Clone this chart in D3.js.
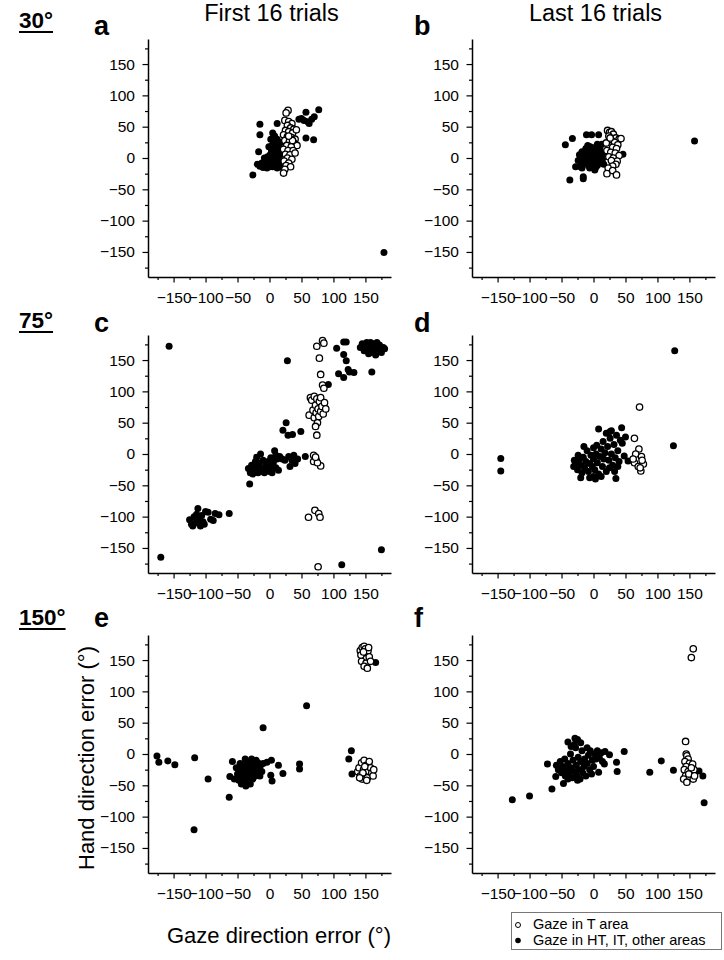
<!DOCTYPE html>
<html>
<head>
<meta charset="utf-8">
<script src="https://cdn.jsdelivr.net/npm/d3@7"></script>
<style>
  html, body { margin: 0; padding: 0; background: #fff; }
  svg { display: block; font-family: "Liberation Sans", Arial, sans-serif; }
  .tick text { font-size: 15.5px; fill: #000; }
</style>
</head>
<body>
<div id="chart"></div>
<script>
// ---------------- DATA ----------------
const columnTitles = ["First 16 trials", "Last 16 trials"];
const rowLabels = ["30°", "75°", "150°"];
const panelLetters = ["a", "b", "c", "d", "e", "f"];
const majorTicks = [-150, -100, -50, 0, 50, 100, 150];
const minorTicks = [-175, -125, -75, -25, 25, 75, 125, 175];
const axisDomain = [-190, 190];
const xTitle = "Gaze direction error (°)";
const yTitle = "Hand direction error (°)";
const legendLabels = ["Gaze in T area", "Gaze in HT, IT, other areas"];

// panel a (30°, first 16)
const aFilled = [[-26,-27],[-15,54],[-15,37],[-17,10],[-19,-10],[-15,-13],[-12,-8],[-10,-15],[-7,-12],[-5,-7],[-4,-16],[-2,-10],[0,-14],[0,-4],[1,5],[2,-8],[3,12],[4,-2],[4,20],[5,-14],[6,8],[6,26],[7,-6],[8,15],[8,35],[9,2],[10,-10],[10,22],[12,55],[12,30],[12,-16],[13,10],[14,-3],[15,18],[16,-12],[17,5],[18,-8],[19,25],[20,-15],[-3,2],[-8,0],[2,30],[-1,18],[5,40],[22,8],[25,-5],
  [46,62],[50,63],[54,60],[57,73],[60,58],[62,55],[66,62],[70,66],[77,77],[57,32],[69,29],[179,-151]];
const aOpen = [[29,76],[26,72],[24,60],[30,58],[35,55],[28,52],[33,48],[38,46],[25,44],[30,42],[36,40],[42,45],[22,37],[28,34],[34,33],[40,30],[24,28],[31,26],[38,24],[43,20],[27,20],[34,18],[22,14],[29,12],[37,12],[25,6],[32,5],[40,8],[28,0],[35,-2],[23,-5],[30,-8],[26,-12],[33,-14],[24,-18],[22,-24],[36,28],[30,35]];

// panel b (30°, last 16)
const bFilled = [[-44,21],[-33,31],[-37,-35],[-11,37],[-3,37],[8,37],[-28,-14],[-20,-14],[-16,-30],[-16,-33],[2,-19],[6,22],[46,6],[41,31],[158,27],
  [-22,5],[-20,-5],[-18,10],[-16,0],[-14,-8],[-12,15],[-12,4],[-10,-4],[-8,8],[-8,-12],[-6,0],[-5,18],[-4,-7],[-3,10],[-2,3],[0,-10],[0,14],[1,0],[2,7],[3,-5],[4,18],[5,2],[6,-12],[7,10],[8,-3],[9,5],[10,15],[11,-8],[12,2],[13,22],[14,-2],[15,8],[16,-10],[-18,-16],[-9,20],[3,-16],[-24,-4],[-6,-16]];
const bOpen = [[22,44],[25,41],[28,42],[31,38],[24,35],[35,32],[40,30],[43,31],[28,28],[33,25],[38,21],[24,20],[30,17],[36,15],[21,12],[27,9],[34,8],[40,4],[24,2],[31,0],[37,-5],[28,-4],[35,-10],[30,-13],[23,-16],[21,-25],[30,-20],[36,-27],[20,24],[26,32]];

// panel c (75°, first 16)
const cFilled = [[-157,172],[-170,-165],[28,149],[113,-177],[175,-153],[160,131],
  [105,169],[116,179],[120,179],[116,159],[120,149],[123,135],[125,131],[132,130],[108,128],[116,122],[92,111],
  [142,170],[145,176],[148,165],[150,172],[152,178],[154,168],[156,174],[158,162],[158,178],[160,170],[162,176],[163,165],[165,172],[166,158],[168,178],[170,168],[172,174],[175,162],[178,170],[180,168],[155,160],[146,172],
  [26,50],[21,38],[29,30],[36,31],[49,36],[56,-4],
  [-33,-23],[-30,-30],[-28,-18],[-26,-32],[-24,-25],[-22,-12],[-20,-20],[-18,-30],[-16,-15],[-14,0],[-12,-24],[-10,-10],[-8,-30],[-6,-18],[-4,-24],[-2,-12],[0,-28],[2,-6],[2,-20],[4,-30],[6,-14],[8,5],[10,-2],[10,-22],[12,-8],[14,-26],[16,-4],[-20,-5],[-10,-28],[-15,-25],[0,-15],[20,-8],[24,-10],[30,-4],[32,-20],[35,-10],[38,-2],[40,-15],[44,-8],[-31,-48],
  [-125,-105],[-122,-112],[-118,-100],[-116,-110],[-114,-96],[-112,-87],[-110,-105],[-108,-115],[-106,-98],[-104,-108],[-100,-92],[-96,-93],[-92,-104],[-88,-106],[-85,-95],[-79,-97],[-63,-95],[-120,-115],[-102,-112]];
const cOpen = [[83,181],[85,177],[74,172],[78,153],[80,127],[83,110],[85,105],
  [62,62],[64,90],[66,86],[68,70],[70,92],[70,58],[72,78],[73,66],[74,88],[75,50],[76,72],[77,60],[78,84],[80,68],[80,90],[82,76],[84,64],[86,82],[88,72],[72,44],[74,30],
  [69,-2],[73,-10],[80,-19],[69,-12],[75,-14],[72,-5],
  [61,-101],[71,-90],[77,-95],[79,-101],[76,-180]];

// panel d (75°, last 16)
const dFilled = [[-145,-7],[-145,-27],[127,165],[125,13],
  [8,40],[44,42],[28,37],[26,36],[20,33],[50,27],[54,-11],[35,-39],[0,-36],[-20,-38],[-31,-20],[45,17],
  [-28,-15],[-25,-25],[-22,-8],[-20,-18],[-18,-30],[-16,-5],[-14,-22],[-12,-12],[-10,5],[-8,-28],[-6,-15],[-4,-2],[-2,-20],[0,10],[0,-8],[2,-25],[4,0],[5,14],[6,-14],[8,-32],[10,-4],[12,8],[14,-20],[15,20],[16,-8],[18,2],[20,-28],[22,12],[24,-10],[26,25],[28,0],[30,-18],[32,15],[34,-6],[36,30],[38,5],[40,-12],[42,22],[-24,-2],[-15,12],[3,-40],[12,-36],[25,-22],[33,-28],[-6,-38],[38,-20],[-30,-10],[48,-3]];
const dOpen = [[72,75],[64,25],[71,8],[64,-14],[66,0],[75,-4],[78,-16],[74,-27],[70,-20],[62,-8],[76,-10],[73,-22]];

// panel e (150°, first 16)
const eFilled = [[-176,-3],[-173,-13],[-159,-11],[-148,-17],[-117,-6],[-96,-40],[-118,-121],[-63,-69],[-62,-36],[-58,-12],[-10,42],[58,77],[3,-10],[-4,-13],[14,-18],[21,-31],[2,-34],[4,-43],[47,-16],[47,-24],[124,-8],[128,5],[129,-32],[166,146],
  [-55,-40],[-52,-22],[-50,-32],[-48,-42],[-46,-15],[-45,-28],[-43,-36],[-42,-20],[-40,-45],[-40,-30],[-38,-25],[-37,-51],[-36,-12],[-35,-38],[-34,-20],[-33,-30],[-32,-44],[-31,-15],[-30,-25],[-29,-35],[-28,-8],[-27,-20],[-26,-40],[-25,-30],[-24,-15],[-23,-25],[-22,-35],[-21,-10],[-20,-20],[-19,-30],[-18,-14],[-16,-25],[-14,-18],[-12,-28],[-10,-15],[-44,-48],[-38,-8],[-47,-26],[-30,-48],[-15,-35]];
const eOpen = [[142,165],[145,170],[148,172],[150,168],[152,160],[146,158],[154,165],[149,152],[144,148],[151,145],[156,155],[148,140],[153,137],[143,158],[158,148],[147,163],[155,170],
  [138,-28],[140,-22],[142,-35],[144,-14],[145,-40],[147,-25],[148,-10],[150,-32],[151,-18],[153,-38],[155,-27],[156,-12],[158,-22],[160,-30],[162,-35],[163,-25],[146,-30],[152,-42],[149,-20],[141,-38]];

// panel f (150°, last 16)
const fFilled = [[-127,-73],[-100,-67],[-65,-56],[-47,-47],[-72,-16],[-59,-36],[-40,19],[-29,25],[-25,23],[48,4],[36,-13],[37,-28],[88,-29],[106,-11],[125,-26],[165,-27],[171,-35],[173,-78],[-3,-32],[8,-29],[17,-16],[25,-1],[18,4],
  [-58,-18],[-55,-25],[-52,-12],[-50,-30],[-48,-20],[-45,-8],[-44,-35],[-42,-25],[-40,-15],[-38,-30],[-36,0],[-35,-22],[-33,-38],[-32,-10],[-30,-28],[-28,10],[-27,-18],[-26,-35],[-24,-5],[-22,-25],[-21,-40],[-20,-12],[-18,5],[-17,-30],[-15,-20],[-14,-8],[-12,-35],[-10,-15],[-8,-2],[-6,-25],[-5,5],[-2,-10],[0,-20],[2,0],[4,-8],[6,5],[9,-5],[12,2],[14,-12],[-30,15],[-20,18],[-35,12],[-40,-40],[-25,-42],[-10,10]];
const fOpen = [[156,168],[153,154],[144,20],[145,0],[146,-3],[148,-8],[143,-12],[150,-15],[145,-20],[155,-16],[142,-25],[148,-28],[152,-30],[157,-25],[144,-35],[150,-38],[156,-40],[141,-40],[146,-45],[153,-22],[149,-32],[158,-35]];

const panelFilled = [aFilled, bFilled, cFilled, dFilled, eFilled, fFilled];
const panelOpen = [aOpen, bOpen, cOpen, dOpen, eOpen, fOpen];

// ---------------- LAYOUT ----------------
const W = 724, H = 960;
const colX = [[148, 391], [472, 715]];
const rowY = [[277, 39], [573, 335], [873, 635]];
const rowLabelBase = [28, 328, 625];
const letterBase = [35, 332, 627];

const svg = d3.select("#chart").append("svg").attr("width", W).attr("height", H);

// column titles
columnTitles.forEach((t, i) => {
  svg.append("text").attr("x", (colX[i][0] + colX[i][1]) / 2 + 2).attr("y", 21)
    .attr("text-anchor", "middle").attr("font-size", 23.5).text(t);
});

// row labels (underlined, bold)
rowLabels.forEach((t, r) => {
  const txt = svg.append("text").attr("x", 19).attr("y", rowLabelBase[r])
    .attr("font-size", 22.5).attr("font-weight", "bold").text(t);
  const w = txt.node().getComputedTextLength();
  svg.append("line").attr("x1", 19).attr("x2", 19 + w)
    .attr("y1", rowLabelBase[r] + 4).attr("y2", rowLabelBase[r] + 4)
    .attr("stroke", "#000").attr("stroke-width", 1.8);
});

for (let p = 0; p < 6; p++) {
  const r = Math.floor(p / 2), c = p % 2;
  const x = d3.scaleLinear().domain(axisDomain).range(colX[c]);
  const y = d3.scaleLinear().domain(axisDomain).range(rowY[r]);
  const g = svg.append("g");

  // panel letter
  svg.append("text").attr("x", c === 0 ? 94 : 414).attr("y", letterBase[r])
    .attr("font-size", 27).attr("font-weight", "bold").text(panelLetters[p]);

  // minor ticks
  g.append("g").attr("transform", `translate(${colX[c][0]},0)`)
    .call(d3.axisLeft(y).tickValues(minorTicks).tickSize(3).tickSizeOuter(0).tickFormat(""))
    .call(s => s.select(".domain").remove())
    .selectAll("line").attr("stroke-width", 1.2);
  g.append("g").attr("transform", `translate(0,${rowY[r][0]})`)
    .call(d3.axisBottom(x).tickValues(minorTicks).tickSize(3).tickSizeOuter(0).tickFormat(""))
    .call(s => s.select(".domain").remove())
    .selectAll("line").attr("stroke-width", 1.2);

  // major axes
  const ya = g.append("g").attr("transform", `translate(${colX[c][0]},0)`)
    .call(d3.axisLeft(y).tickValues(majorTicks).tickSize(5.5).tickSizeOuter(0).tickPadding(7.5));
  const xa = g.append("g").attr("transform", `translate(0,${rowY[r][0]})`)
    .call(d3.axisBottom(x).tickValues(majorTicks).tickSize(5.5).tickSizeOuter(0).tickPadding(9));
  [ya, xa].forEach(a => {
    a.attr("font-family", null).attr("font-size", null);
    a.select(".domain").attr("stroke-width", 1.5);
    a.selectAll(".tick line").attr("stroke-width", 1.2);
  });

  // filled points
  g.append("g").selectAll("circle").data(panelFilled[p]).join("circle")
    .attr("cx", d => x(d[0])).attr("cy", d => y(d[1])).attr("r", 3.5)
    .attr("fill", "#000");
  // open points
  g.append("g").selectAll("circle").data(panelOpen[p]).join("circle")
    .attr("cx", d => x(d[0])).attr("cy", d => y(d[1])).attr("r", 3.2)
    .attr("fill", "#fff").attr("stroke", "#000").attr("stroke-width", 1.3);
}

// axis titles
svg.append("text").attr("x", 279).attr("y", 943).attr("text-anchor", "middle")
  .attr("font-size", 22).text(xTitle);
svg.append("text").attr("transform", "translate(94,758) rotate(-90)")
  .attr("text-anchor", "middle").attr("font-size", 22).text(yTitle);

// legend
const lg = svg.append("g");
lg.append("rect").attr("x", 511.5).attr("y", 912.5).attr("width", 210).attr("height", 37)
  .attr("fill", "#fff").attr("stroke", "#777").attr("stroke-width", 1);
lg.append("circle").attr("cx", 518).attr("cy", 925).attr("r", 2.5)
  .attr("fill", "#fff").attr("stroke", "#000").attr("stroke-width", 1);
lg.append("circle").attr("cx", 518).attr("cy", 940.5).attr("r", 2.8).attr("fill", "#000");
lg.append("text").attr("x", 533).attr("y", 929).attr("font-size", 14.5).text(legendLabels[0]);
lg.append("text").attr("x", 533).attr("y", 945).attr("font-size", 14.5).text(legendLabels[1]);
</script>
</body>
</html>
